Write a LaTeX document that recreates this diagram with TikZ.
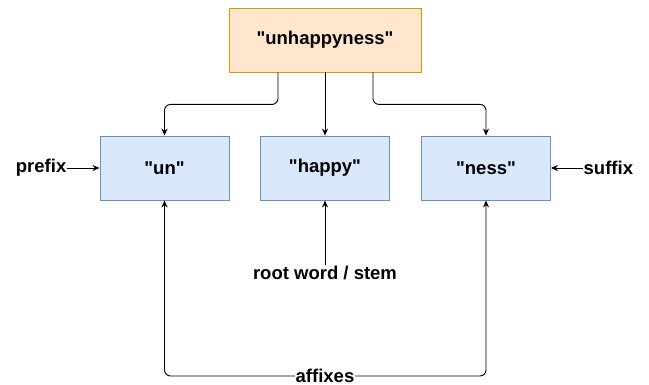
\documentclass[tikz,border=0pt]{standalone}
\usepackage{fontspec}
\setmainfont{Liberation Sans}
\usetikzlibrary{arrows.meta}
\definecolor{ofill}{HTML}{FFE6CC}
\definecolor{odraw}{HTML}{D79B00}
\definecolor{bfill}{HTML}{DAE8FC}
\definecolor{bdraw}{HTML}{6C8EBF}
\newcommand{\qq}{\textquotedbl}
\tikzset{
  txt/.style={font=\fontsize{18.5}{21}\selectfont\bfseries},
  wordbox/.style={txt,draw=bdraw,fill=bfill,line width=0.9pt,minimum width=129pt,minimum height=64pt,inner sep=0pt},
  topbox/.style={txt,draw=odraw,fill=ofill,line width=0.9pt,minimum width=192pt,minimum height=64pt,inner sep=0pt},
  lbl/.style={txt,inner sep=0.5pt},
  arr/.style={line width=0.9pt,-{Stealth[length=7pt,width=6pt]}}
}
\begin{document}
\begin{tikzpicture}[x=1pt,y=-1pt]
\useasboundingbox (0,0) rectangle (649,385);
\node[topbox] (top) at (325,40) {\qq unhappyness\qq};
\node[wordbox] (un) at (164.5,168) {\qq un\qq};
\node[wordbox] (happy) at (325,168) {\qq happy\qq};
\node[wordbox] (ness) at (486,168) {\qq ness\qq};
\node[lbl,anchor=east] (prefix) at (67,168) {prefix};
\node[lbl,anchor=west] (suffix) at (583,168) {suffix};
\node[lbl] (root) at (325,273) {root word / stem};
\node[lbl] (affixes) at (325,376) {affixes};
\draw[arr,rounded corners=6pt] ([xshift=-47pt]top.south) -- ++(0,32) -| (un.north);
\draw[arr] (top.south) -- (happy.north);
\draw[arr,rounded corners=6pt] ([xshift=48pt]top.south) -- ++(0,32) -| (ness.north);
\draw[arr] (prefix.east) -- (un.west);
\draw[arr] (suffix.west) -- (ness.east);
\draw[arr] (root.north) -- (happy.south);
\draw[arr,rounded corners=6pt] (affixes.west) -| (un.south);
\draw[arr,rounded corners=6pt] (affixes.east) -| (ness.south);
\end{tikzpicture}
\end{document}
